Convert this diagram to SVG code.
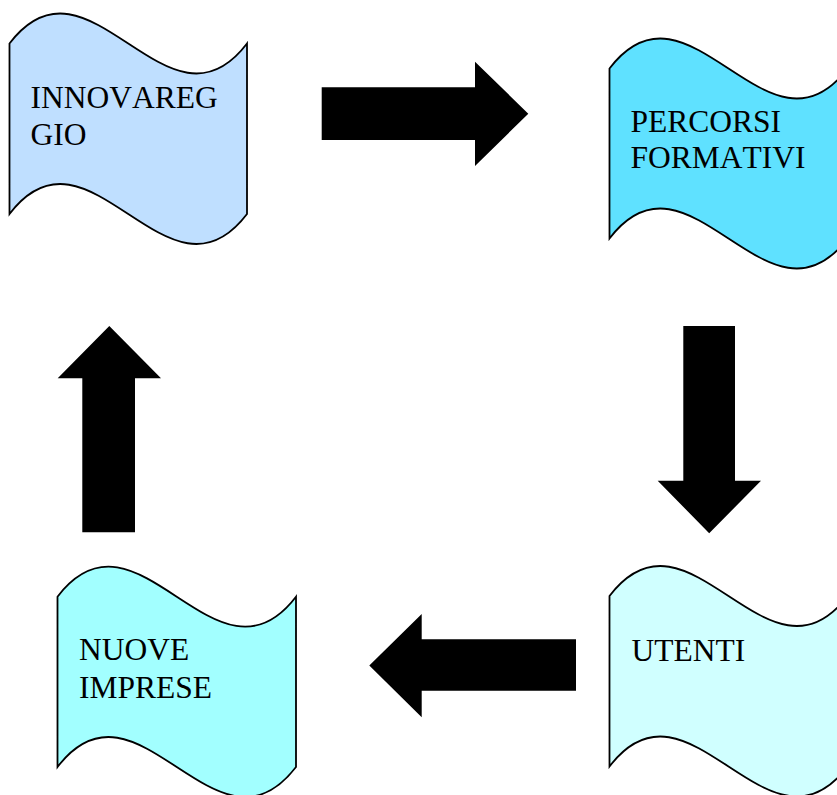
<svg xmlns="http://www.w3.org/2000/svg" width="837" height="795" viewBox="0 0 837 795">
<style>
.wave{stroke:#000;stroke-width:1.8;stroke-linejoin:miter}
.lbl{font-family:"Liberation Serif","Times New Roman",serif;font-size:31.5px;fill:#000;font-kerning:none}
.arr{fill:#000}
</style>
<rect width="837" height="795" fill="#fff"/>
<g id="node-innovareggio">
<path class="wave" fill="#BFDFFF" d="M9.5,43.5 C88.7,-60.5 167.8,147.5 247,43.5 L247,214 C167.8,318 88.7,110 9.5,214 Z"/>
<text class="lbl" x="30.5" y="108.3">INNOVAREG</text>
<text class="lbl" x="30.5" y="144.5">GIO</text>
</g>
<g id="node-percorsi">
<path class="wave" fill="#5FE1FF" d="M609.5,68.5 C688.8,-35.5 768.2,172.5 847.5,68.5 L847.5,238.5 C768.2,342.5 688.8,134.5 609.5,238.5 Z"/>
<text class="lbl" x="630.5" y="131.7">PERCORSI</text>
<text class="lbl" x="630.5" y="168.3">FORMATIVI</text>
</g>
<g id="node-utenti">
<path class="wave" fill="#D0FFFF" d="M609.5,596 C688.8,492 768.2,700 847.5,596 L847.5,766.5 C768.2,870.5 688.8,662.5 609.5,766.5 Z"/>
<text class="lbl" x="631.5" y="660.7">UTENTI</text>
</g>
<g id="node-nuove-imprese">
<path class="wave" fill="#A2FFFF" d="M57.5,596.7 C137.2,492.7 216.3,700.7 296,596.7 L296,767 C216.3,871 137.2,663 57.5,767 Z"/>
<text class="lbl" x="79" y="660">NUOVE</text>
<text class="lbl" x="79" y="698.3">IMPRESE</text>
</g>
<g id="connectors">
<polygon class="arr" points="321.7,87.3 475,87.3 475,61.7 528.3,113.7 475,166 475,140 321.7,140"/>
<polygon class="arr" points="683.3,326 735,326 735,480.7 761,480.7 709.2,533.3 657.7,480.7 683.3,480.7"/>
<polygon class="arr" points="576,639.3 421.7,639.3 421.7,614 369.3,665.5 421.7,717.3 421.7,690.7 576,690.7"/>
<polygon class="arr" points="82.3,532.3 135,532.3 135,378.3 161,378.3 109.3,326 57.7,378.3 82.3,378.3"/>
</g>
</svg>
